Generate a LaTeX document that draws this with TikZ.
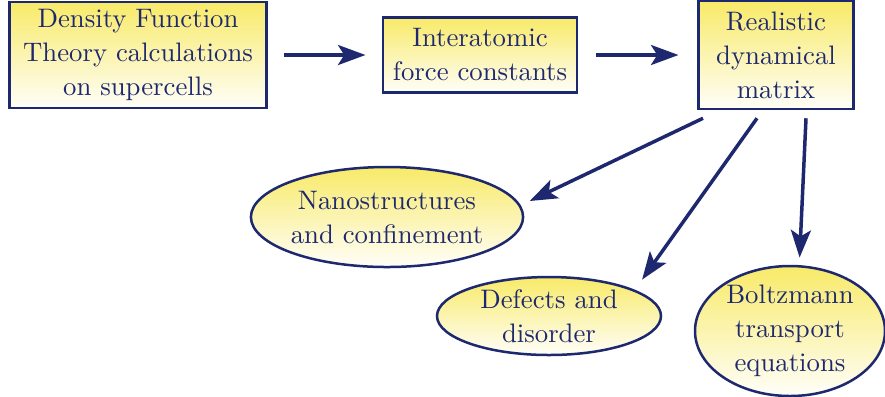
\documentclass[tikz,border=0pt]{standalone}
\usepackage[usenames,svgnames,dvipsnames]{xcolor}
\usetikzlibrary{arrows,arrows.meta,shapes.geometric}

\definecolor{flowblue}{RGB}{30,40,110}
\definecolor{flowyellow}{RGB}{248,234,104}

\tikzset{
  stepbox/.style={draw=flowblue,line width=1pt,top color=flowyellow,
    bottom color=flowyellow!4,text=flowblue,align=center,inner sep=0pt},
  result/.style={stepbox,ellipse},
  flow/.style={-{Stealth[length=11pt,width=8pt,inset=2.5pt]},flowblue,line width=1.4pt}
}

\begin{document}
\begin{tikzpicture}[x=0.4pt,y=-0.4pt,font=\fontsize{10.7pt}{13.6pt}\selectfont]
  \useasboundingbox (0,0) rectangle (885,396);

  % Draw the chain of calculation steps
  \node[stepbox,minimum width=102.8pt,minimum height=42.4pt] (dft) at (138,55)
    {Density Function\\Theory calculations\\on supercells};
  \node[stepbox,minimum width=77.6pt,minimum height=30pt] (ifc) at (480,55)
    {Interatomic\\force constants};
  \node[stepbox,minimum width=62pt,minimum height=43.2pt] (rdm) at (776,55)
    {Realistic\\dynamical\\matrix};

  % Draw the applications
  \node[result,minimum width=107.6pt,minimum height=40pt] (nano) at (387,217)
    {Nanostructures\\and confinement};
  \node[result,minimum width=89.6pt,minimum height=31.2pt] (defects) at (549,316)
    {Defects and\\disorder};
  \node[result,minimum width=76pt,minimum height=52pt] (boltz) at (790,331)
    {Boltzmann\\transport\\equations};

  % Draw the horizontal arrows
  \draw[flow,shorten <=6.5pt,shorten >=6.5pt] (dft) -- (ifc);
  \draw[flow,shorten <=7pt,shorten >=7.5pt] (ifc) -- (rdm);

  % Draw the arrows out of the dynamical matrix
  \draw[flow,shorten >=4pt] ([xshift=-29.2pt,yshift=-3.2pt]rdm.south) -- (nano.5);
  \draw[flow,shorten >=5pt] ([xshift=-7.6pt,yshift=-3.2pt]rdm.south) -- (defects.17);
  \draw[flow,shorten >=3pt] ([xshift=12pt,yshift=-3.2pt]rdm.south) -- (boltz.82);
\end{tikzpicture}
\end{document}
